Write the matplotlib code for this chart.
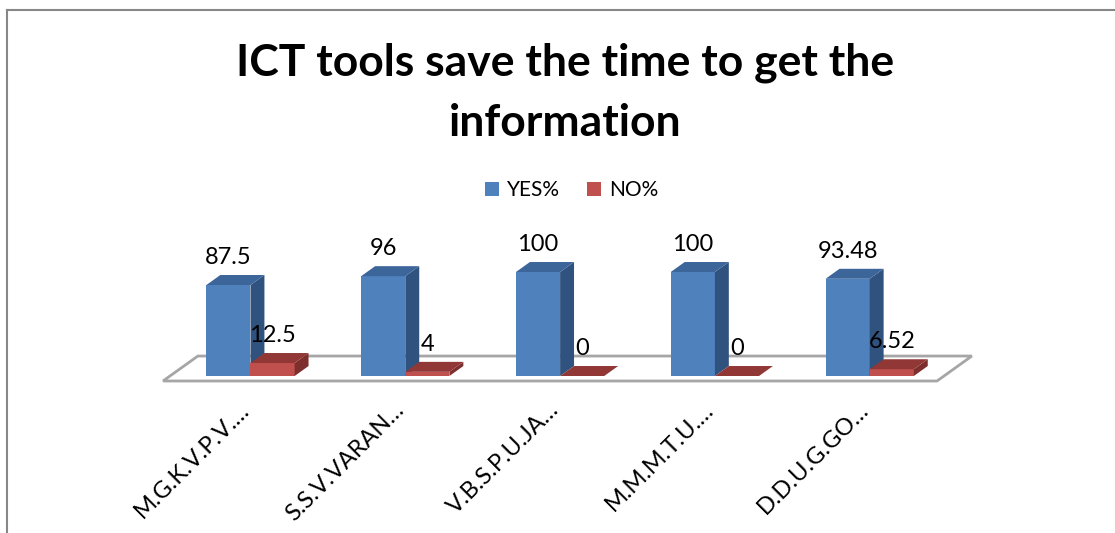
import matplotlib
matplotlib.use("Agg")
import matplotlib.pyplot as plt
from matplotlib.patches import Polygon, Patch
from matplotlib.lines import Line2D

# ===============================
# DATA
# ===============================
categories = ["M.G.K.V.P.V.\u2026", "S.S.V.VARAN\u2026", "V.B.S.P.U.JA\u2026",
              "M.M.M.T.U.\u2026", "D.D.U.G.GO\u2026"]
yes_pct = [87.5, 96, 100, 100, 93.48]
no_pct = [12.5, 4, 0, 0, 6.52]
value_labels_yes = ["87.5", "96", "100", "100", "93.48"]
value_labels_no = ["12.5", "4", "0", "0", "6.52"]

# ===============================
# STYLE
# ===============================
W, H = 1115, 533
FONT = ["Lato", "DejaVu Sans"]
plt.rcParams["font.family"] = FONT

BLUE = ("#4F81BD", "#30527E", "#3C659A")   # front, side, top
RED = ("#C0504D", "#7E2E2C", "#913836")

BAR_W = 0.285
OFF = 0.02
DX, DY = 0.09, 9.6   # 3D depth offset in data units (one bar depth)

fig = plt.figure(figsize=(W / 100, H / 100), dpi=100)
ax = fig.add_axes([170 / W, 157 / H, 774 / W, 104 / H])
ax.set_xlim(-0.5, len(categories) - 0.5)
ax.set_ylim(0, 100)
ax.axis("off")


def box3d(x0, x1, h, colors):
    front, side, top = colors
    ax.add_patch(Polygon([(x0, 0), (x1, 0), (x1, h), (x0, h)],
                         closed=True, fc=front, ec="none", clip_on=False, zorder=3))
    ax.add_patch(Polygon([(x1, 0), (x1 + DX, DY), (x1 + DX, h + DY), (x1, h)],
                         closed=True, fc=side, ec="none", clip_on=False, zorder=3))
    ax.add_patch(Polygon([(x0, h), (x1, h), (x1 + DX, h + DY), (x0 + DX, h + DY)],
                         closed=True, fc=top, ec="none", clip_on=False, zorder=3))


# floor
n = len(categories)
fl = [(-0.5 - 0.5 * DX, -0.5 * DY), (n - 0.5 - 0.5 * DX, -0.5 * DY),
      (n - 0.5 + 2 * DX, 2 * DY), (-0.5 + 2 * DX, 2 * DY)]
ax.add_patch(Polygon(fl, closed=True, fc="white", ec="#A6A6A6", lw=2,
                     clip_on=False, zorder=1))

for i in range(n):
    b0 = i + OFF - BAR_W
    box3d(b0, i + OFF, yes_pct[i], BLUE)
    box3d(i + OFF, i + OFF + BAR_W, no_pct[i], RED)
    ax.annotate(value_labels_yes[i], (b0 + BAR_W / 2, yes_pct[i] + DY),
                xytext=(0, 5), textcoords="offset points", ha="center",
                va="bottom", fontsize=17, annotation_clip=False, zorder=5)
    ax.annotate(value_labels_no[i], (i + OFF + BAR_W / 2, no_pct[i] + DY),
                xytext=(0, 5), textcoords="offset points", ha="center",
                va="bottom", fontsize=17, annotation_clip=False, zorder=5)
    ax.text(i - 0.06, -22, categories[i], rotation=45, rotation_mode="anchor",
            ha="right", va="top", fontsize=17)

# title
fig.text(565 / W, 1 - 93 / H, "ICT tools save the time to get the\ninformation",
         ha="center", va="center", fontsize=32, fontweight="bold",
         linespacing=1.6)

# legend
handles = [Patch(fc=BLUE[0]), Patch(fc=RED[0])]
fig.legend(handles, ["YES%", "NO%"], loc="center", ncol=2,
           bbox_to_anchor=(572 / W, 1 - 190 / H), frameon=False,
           fontsize=15, handlelength=0.65, handleheight=0.65,
           handletextpad=0.4, columnspacing=1.3)

# chart area frame
fig.add_artist(Line2D([7 / W, 7 / W], [0, 1 - 10 / H], color="#878787", lw=1.5))
fig.add_artist(Line2D([7 / W, 1], [1 - 10 / H, 1 - 10 / H], color="#878787", lw=1.5))

fig.savefig("out.png", dpi=100)
